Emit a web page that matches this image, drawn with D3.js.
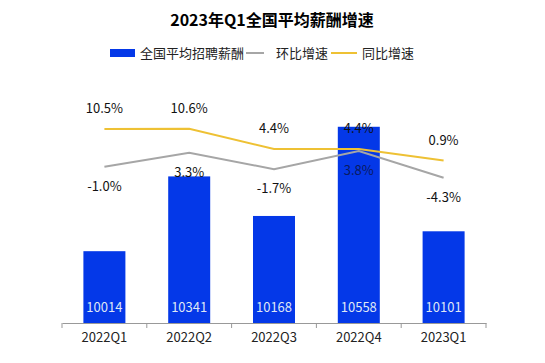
<!DOCTYPE html>
<html>
<head>
<meta charset="utf-8">
<script src="https://cdn.jsdelivr.net/npm/d3@7"></script>
<style>
  body { margin: 0; background: #fff; }
  text { font-family: "Noto Sans CJK SC", "Noto Sans", sans-serif; }
</style>
</head>
<body>
<div id="chart"></div>
<script>
// data
var quarters = ["2022Q1", "2022Q2", "2022Q3", "2022Q4", "2023Q1"];
var salary = [10014, 10341, 10168, 10558, 10101];
var qoq = [-1.0, 3.3, -1.7, 3.8, -4.3];   // 环比增速
var yoy = [10.5, 10.6, 4.4, 4.4, 0.9];    // 同比增速

var width = 545, height = 363;
var plotLeft = 62, plotRight = 486, plotBottom = 323, plotTop = 60;

var svg = d3.select("#chart").append("svg")
    .attr("width", width)
    .attr("height", height);

var x = d3.scaleBand()
    .domain(quarters)
    .range([plotLeft, plotRight])
    .paddingInner(0)
    .paddingOuter(0);

var y = d3.scaleLinear()
    .domain([9700, 10850])
    .range([plotBottom, plotTop]);

var y2 = d3.scaleLinear()
    .domain([-48.5, 31.5])
    .range([plotBottom, plotTop]);

var barW = 42;
var cx = function(i) { return x(quarters[i]) + x.bandwidth() / 2; };

// title
svg.append("text")
    .attr("x", 272)
    .attr("y", 26)
    .attr("text-anchor", "middle")
    .style("font-size", "16px")
    .style("font-weight", "bold")
    .attr("fill", "#000")
    .text("2023年Q1全国平均薪酬增速");

// legend
var lg = svg.append("g").attr("class", "legend");
lg.append("rect").attr("x", 110).attr("y", 49).attr("width", 25).attr("height", 8).attr("fill", "#0438e8");
lg.append("text").attr("x", 140).attr("y", 58).style("font-size", "13px").attr("fill", "#222").text("全国平均招聘薪酬");
lg.append("line").attr("x1", 246).attr("x2", 264).attr("y1", 53).attr("y2", 53).attr("stroke", "#a6a6a6").attr("stroke-width", 2);
lg.append("text").attr("x", 276).attr("y", 58).style("font-size", "13px").attr("fill", "#222").text("环比增速");
lg.append("line").attr("x1", 331).attr("x2", 357).attr("y1", 53).attr("y2", 53).attr("stroke", "#eec134").attr("stroke-width", 2);
lg.append("text").attr("x", 362).attr("y", 58).style("font-size", "13px").attr("fill", "#222").text("同比增速");

// bars
svg.append("g")
    .selectAll("rect")
    .data(salary)
    .enter().append("rect")
    .attr("x", function(d, i) { return cx(i) - barW / 2; })
    .attr("y", function(d) { return y(d); })
    .attr("width", barW)
    .attr("height", function(d) { return plotBottom - y(d); })
    .attr("fill", "#0438e8");

svg.append("g")
    .selectAll("text")
    .data(salary)
    .enter().append("text")
    .attr("x", function(d, i) { return cx(i); })
    .attr("y", 312)
    .attr("text-anchor", "middle")
    .style("font-size", "13px")
    .attr("fill", "#dfe6f5")
    .text(function(d) { return d; });

// x axis
var xAxis = d3.axisBottom(x).tickSize(0).tickPadding(10);
var gx = svg.append("g")
    .attr("transform", "translate(0," + plotBottom + ")")
    .call(xAxis);
gx.select(".domain").attr("stroke", "#999");
gx.selectAll(".tick text").style("font-size", "13px").attr("fill", "#222")
    .style("font-family", '"Noto Sans CJK SC", "Noto Sans", sans-serif');
gx.selectAll(".sep")
    .data(d3.range(quarters.length + 1))
    .enter().append("line")
    .attr("class", "sep")
    .attr("x1", function(i) { return plotLeft + i * x.bandwidth(); })
    .attr("x2", function(i) { return plotLeft + i * x.bandwidth(); })
    .attr("y1", 0).attr("y2", 5)
    .attr("stroke", "#999");

// lines
var line = d3.line()
    .x(function(d, i) { return cx(i); })
    .y(function(d) { return y2(d); });

svg.append("path")
    .datum(qoq)
    .attr("d", line)
    .attr("fill", "none")
    .attr("stroke", "#a6a6a6")
    .attr("stroke-width", 2);

svg.append("path")
    .datum(yoy)
    .attr("d", line)
    .attr("fill", "none")
    .attr("stroke", "#eec134")
    .attr("stroke-width", 2);

var fmt = function(d) { return d.toFixed(1) + "%"; };

svg.append("g")
    .selectAll("text")
    .data(yoy)
    .enter().append("text")
    .attr("x", function(d, i) { return cx(i); })
    .attr("y", function(d) { return y2(d) - 16; })
    .attr("text-anchor", "middle")
    .style("font-size", "13px")
    .attr("fill", "#111")
    .text(fmt);

svg.append("g")
    .selectAll("text")
    .data(qoq)
    .enter().append("text")
    .attr("x", function(d, i) { return cx(i); })
    .attr("y", function(d) { return y2(d) + 24; })
    .attr("text-anchor", "middle")
    .style("font-size", "13px")
    .attr("fill", function(d, i) { return i == 3 ? "#0a1a60" : "#111"; })
    .text(fmt);
</script>
</body>
</html>
